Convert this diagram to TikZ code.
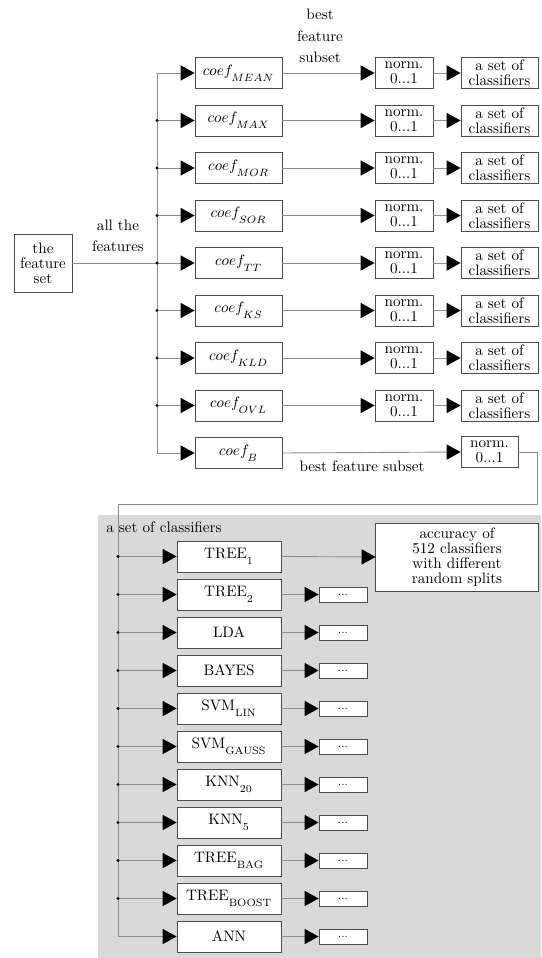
\documentclass[tikz,border=0pt]{standalone}
\usetikzlibrary{arrows.meta}
\newcommand\dsub[1]{_{\raisebox{-2.2pt}{$\scriptstyle #1$}}}
\begin{document}
\begin{tikzpicture}[x=0.66pt,y=-0.66pt,
  line/.style={draw=black!45, line width=0.6pt},
  arr/.style={line, -{Triangle[length=9.2pt,width=10pt,fill=black,color=black]}},
  box/.style={draw=black!70, line width=0.6pt, fill=white, align=center, inner sep=0pt,
    font=\fontsize{10pt}{10pt}\selectfont},
  coefbox/.style={box, minimum width=57.4pt, minimum height=20.5pt},
  normbox/.style={box, minimum width=38.3pt, minimum height=20.5pt},
  setbox/.style={box, minimum width=50.8pt, minimum height=20.5pt},
  clsbox/.style={box, minimum width=68.6pt, minimum height=20.5pt},
  dotbox/.style={box, minimum width=31.7pt, minimum height=9.9pt, font=\scriptsize},
  lbl/.style={align=center, inner sep=0pt, font=\fontsize{10pt}{14pt}\selectfont},
  jdot/.style={circle, fill=black, inner sep=0pt, minimum size=2.2pt}
]
\useasboundingbox (0,0) rectangle (541,958);
% gray panel
\fill[black!15] (98,515) rectangle (541,958);

% feature set
\node[box, minimum width=38.3pt, minimum height=38.3pt] (fs) at (43,263) {the\\feature\\set};
\node[lbl] (allf) at (118,236) {all the\\features};
\node[lbl] (bfs1) at (320,36) {best\\feature\\subset};

% trunk coordinates
\foreach \i in {0,...,8} {
  \coordinate (t\i) at (157,{73+47.5*\i});
}
\draw[line] (fs.east) -- (t4);
\draw[line] (t0) -- (t8);

% coef nodes
\foreach \i/\s in {0/MEAN,1/MAX,2/MOR,3/SOR,4/TT,5/KS,6/KLD,7/OVL,8/B} {
  \node[coefbox] (c\i) at (238.5,{73+47.5*\i}) {$coef\dsub{\s}$};
  \draw[arr] (t\i) -- (c\i.west);
}
\foreach \i in {1,...,7} { \node[jdot] at (t\i) {}; }

% norm and set nodes
\foreach \i in {0,...,7} {
  \node[normbox] (n\i) at (404,{73+47.5*\i}) {norm.\\0...1};
  \node[setbox] (s\i) at (499.5,{73+47.5*\i}) {a set of\\classifiers};
  \draw[arr] (c\i.east) -- (n\i.west);
  \draw[arr] (n\i.east) -- (s\i.west);
}

% B row
\node[box, minimum width=37.6pt, minimum height=20.5pt] (n8) at (489.5,452) {norm.\\0...1};
\draw[arr] (c8.east) -- (n8.west);
\node[lbl] (bfs2) at (362,466) {best feature subset};

\coordinate (r1) at (537,452);
\coordinate (r2) at (537,504);
\coordinate (ktop) at (118,504);

% classifier section
\node[lbl, anchor=west] (asc) at (106,527) {a set of classifiers};
\foreach \j/\t in {0/{$\mathrm{TREE}\dsub{\mathrm{1}}$},
                   1/{$\mathrm{TREE}\dsub{\mathrm{2}}$},
                   2/{LDA},
                   3/{BAYES},
                   4/{$\mathrm{SVM}\dsub{\mathrm{LIN}}$},
                   5/{$\mathrm{SVM}\dsub{\mathrm{GAUSS}}$},
                   6/{$\mathrm{KNN}\dsub{\mathrm{20}}$},
                   7/{$\mathrm{KNN}\dsub{\mathrm{5}}$},
                   8/{$\mathrm{TREE}\dsub{\mathrm{BAG}}$},
                   9/{$\mathrm{TREE}\dsub{\mathrm{BOOST}}$},
                   10/{ANN}} {
  \coordinate (k\j) at (118,{556.5+38*\j});
  \node[clsbox] (m\j) at (229,{556.5+38*\j}) {\t};
}
\draw[line] (n8.east) -- (r1) -- (r2) -- (ktop) -- (k10);
\foreach \j in {0,...,10} { \draw[arr] (k\j) -- (m\j.west); }
\foreach \j in {0,...,9} { \node[jdot] at (k\j) {}; }
\foreach \j in {1,...,10} {
  \node[dotbox] (d\j) at (343,{556.5+38*\j}) {...};
  \draw[arr] (m\j.east) -- (d\j.west);
}
\node[box, minimum width=107pt, minimum height=44.9pt] (acc) at (457,557)
  {accuracy of\\512 classifiers\\with different\\random splits};
\draw[arr] (m0.east) -- (acc.west);
\end{tikzpicture}
\end{document}
